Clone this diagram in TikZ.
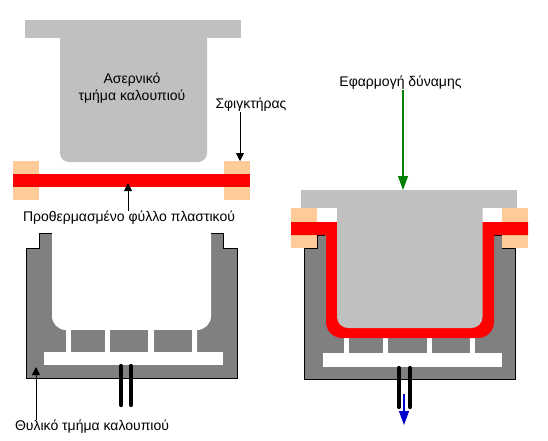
\documentclass[tikz,border=0pt]{standalone}
\usepackage{fontspec}
\setmainfont{Liberation Sans}
\definecolor{moldLight}{RGB}{192, 192, 192}
\definecolor{moldDark}{RGB}{128, 128, 128}
\definecolor{clampPeach}{RGB}{255, 204, 153}
\definecolor{sheetRed}{RGB}{255, 0, 0}
\definecolor{forceGreen}{RGB}{0, 128, 0}
\definecolor{airBlue}{RGB}{0, 0, 204}
\usetikzlibrary{arrows.meta}

\begin{document}
\begin{tikzpicture}[
    x=1pt, y=-1pt,
    clamp/.style={fill=clampPeach, inner sep=0pt, minimum width=26pt},
    sheet/.style={fill=sheetRed, inner sep=0pt, minimum height=13pt},
    label/.style={inner sep=0pt, align=center, font=\fontsize{14}{17}\selectfont},
    arr/.style={-{Triangle[length=8pt,width=8pt]}, thick, black},
    bigarr/.style={-{Triangle[length=14pt,width=10pt]}, line width=1.1pt},
    tube/.style={line width=4.2pt, line cap=round, black},
    outline/.style={draw=black, line width=0.7pt}
  ]
    \useasboundingbox (0,0) rectangle (548,440);

    % left: lower mould
    \fill[moldDark] (26,248) -- (39.5,248) -- (39.5,233) -- (52,233) -- (211,233) -- (223,233) -- (223,248) -- (237,248) -- (237,378) -- (26,378) -- cycle;
    \draw[outline] (52,233) -- (39.5,233) -- (39.5,248) -- (26,248) -- (26,378) -- (237,378) -- (237,248) -- (223,248) -- (223,233) -- (211,233);
    \fill[white] (52,230) -- (52,316) arc[start angle=180, end angle=90, radius=14] -- (66,352) -- (197,352) -- (197,330) arc[start angle=90, end angle=0, radius=14] -- (211,230) -- cycle;
    \fill[white] (44,352) rectangle (223,365);
    \fill[moldDark] (71,330) rectangle (105,352);
    \fill[moldDark] (110,330) rectangle (148,352);
    \fill[moldDark] (154,330) rectangle (192,352);
    \draw[tube] (121,366) -- (121,405);
    \draw[tube] (131,366) -- (131,405);

    % left: upper mould
    \fill[moldLight, rounded corners=9pt] (60,30) -- (207,30) -- (207,162) -- (60,162) -- cycle;
    \fill[moldLight] (25,20) rectangle (241,38);
    \node[label] (upperLabel) at (132,88) {Ασερνικό\\τμήμα καλουπιού};

    % left: clamps and sheet
    \node[clamp, minimum height=39pt] (clampLeft) at (26,180.5) {};
    \node[clamp, minimum height=39pt] (clampRight) at (237,180.5) {};
    \node[sheet, minimum width=237pt] (sheetFlat) at (131.5,180.5) {};

    \node[label] (clampLabel) at (251,105) {Σφιγκτήρας};
    \node[label] (sheetLabel) at (129,217.5) {Προθερμασμένο φύλλο πλαστικού};
    \node[label] (lowerLabel) at (92,427) {Θυλικό τμήμα καλουπιού};
    \coordinate (clampTip) at (240,161);
    \coordinate (sheetTip) at (128,183);
    \coordinate (lowerTip) at (36,367);
    \draw[arr] (clampLabel.south -| clampTip) -- (clampTip);
    \draw[arr] (sheetLabel.north -| sheetTip) -- (sheetTip);
    \draw[arr] (lowerLabel.north -| lowerTip) -- (lowerTip);

    % right: lower mould
    \fill[moldDark] (304,248) -- (317,248) -- (317,235) -- (502,235) -- (502,248) -- (515,248) -- (515,379) -- (304,379) -- cycle;
    \draw[outline] (325,235) -- (317,235) -- (317,248) -- (304,248) -- (304,379) -- (515,379) -- (515,248) -- (502,248) -- (502,235) -- (494,235);
    \fill[white] (344,335) rectangle (349,353);
    \fill[white] (383,335) rectangle (388,353);
    \fill[white] (427,335) rectangle (432,353);
    \fill[white] (470,335) rectangle (475,353);
    \fill[white] (323,353) rectangle (502,367);
    \draw[tube] (399,368) -- (399,407);
    \draw[tube] (410,368) -- (410,407);

    % right: clamps, sheet, upper mould
    \node[clamp, minimum height=14pt] (clampUpLeft) at (304,215) {};
    \node[clamp, minimum height=13pt] (clampDownLeft) at (304,241.5) {};
    \node[clamp, minimum height=14pt] (clampUpRight) at (515,215) {};
    \node[clamp, minimum height=13pt] (clampDownRight) at (515,241.5) {};
    \fill[sheetRed] (291,222) -- (528,222) -- (528,235) -- (494,235) -- (494,322) arc[start angle=0, end angle=90, radius=16] -- (342,338) arc[start angle=90, end angle=180, radius=16] -- (326,235) -- (291,235) -- cycle;
    \fill[moldLight] (337,200) -- (482.5,200) -- (482.5,317) arc[start angle=0, end angle=90, radius=11] -- (348,328) arc[start angle=90, end angle=180, radius=11] -- cycle;
    \fill[moldLight] (301,190) rectangle (517,208);

    \node[label] (forceLabel) at (400.5,83) {Εφαρμογή δύναμης};
    \coordinate (forceTip) at (403,190);
    \coordinate (airStart) at (404,394);
    \coordinate (airTip) at (404,425);
    \draw[bigarr, forceGreen] (forceLabel.south -| forceTip) -- (forceTip);
    \draw[bigarr, airBlue] (airStart) -- (airTip);
  \end{tikzpicture}
\end{document}
